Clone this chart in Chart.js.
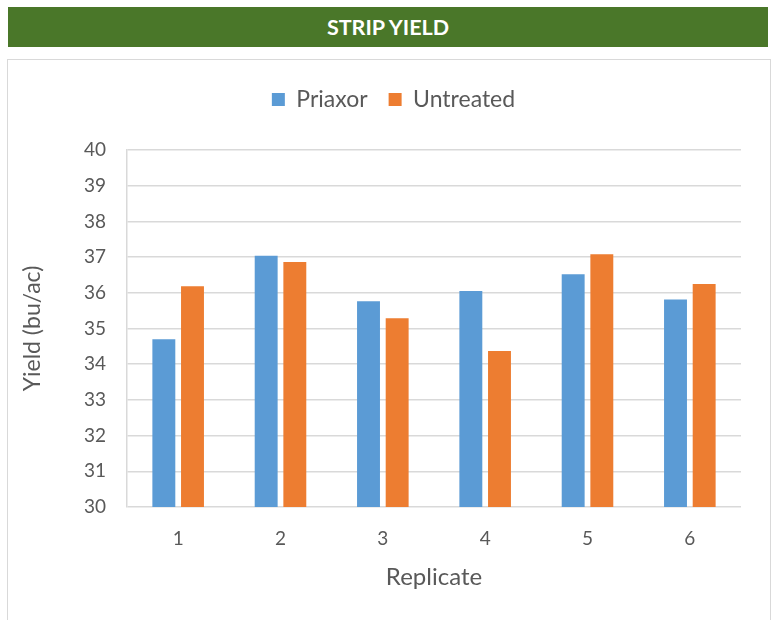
<!DOCTYPE html>
<html>
<head>
<meta charset="utf-8">
<script src="https://cdn.jsdelivr.net/npm/chart.js@4.4.1/dist/chart.umd.min.js"></script>
<style>
  body { margin: 0; background: #fff; font-family: Lato, "Open Sans", sans-serif; }
  #header {
    position: absolute; left: 8px; top: 7px; width: 760px; height: 40px;
    background: #4a7729; color: #fff; font-weight: bold; font-size: 21.5px;
    line-height: 40px; text-align: center;
  }
  #box {
    position: absolute; left: 7px; top: 59px; width: 762px; height: 561px;
    border: 1px solid #d9d9d9; border-bottom: none;
  }
</style>
</head>
<body>
<div id="header">STRIP YIELD</div>
<div id="box"><canvas id="yieldChart"></canvas></div>
<script>
const replicates = ["1", "2", "3", "4", "5", "6"];
const priaxor = [34.70, 37.04, 35.76, 36.05, 36.52, 35.81];
const untreated = [36.18, 36.86, 35.29, 34.37, 37.08, 36.25];
const yTicks = [30, 31, 32, 33, 34, 35, 36, 37, 38, 39, 40];

const textColor = "#595959";
const gridColor = "#d9d9d9";

// fixed legend height so the plot area lands where it does in the reference,
// and nudge it right so it is centred on the whole box rather than the padded area
const legendPlacement = {
  id: "legendPlacement",
  beforeInit(chart) {
    const fit = chart.legend.fit;
    chart.legend.fit = function () {
      fit.bind(chart.legend)();
      this.height = 83;
    };
  },
  afterLayout(chart) {
    chart.legend.left += 19;
    chart.legend.right += 19;
  }
};

new Chart(document.getElementById("yieldChart").getContext("2d"), {
  type: "bar",
  data: {
    labels: replicates,
    datasets: [
      { label: "Priaxor", data: priaxor, backgroundColor: "#5b9bd5" },
      { label: "Untreated", data: untreated, backgroundColor: "#ed7d31" }
    ]
  },
  options: {
    responsive: true,
    maintainAspectRatio: false,
    animation: false,
    layout: { padding: { top: 7, right: 29, left: 0, bottom: 0 } },
    datasets: { bar: { categoryPercentage: 0.56, barPercentage: 0.8 } },
    plugins: {
      legend: {
        position: "top",
        labels: {
          color: textColor,
          font: { family: "Lato", size: 23 },
          boxWidth: 13, boxHeight: 13, padding: 21
        }
      },
      tooltip: { enabled: false }
    },
    scales: {
      x: {
        grid: { display: false },
        border: { display: false },
        ticks: { color: textColor, font: { family: "Lato", size: 19 }, padding: 12 },
        title: {
          display: true, text: "Replicate", color: textColor,
          font: { family: "Lato", size: 24 }, padding: { top: 0, bottom: 29 }
        },
        afterFit(scale) { scale.height = 114; }
      },
      y: {
        min: 30, max: 40,
        afterBuildTicks(scale) { scale.ticks = yTicks.map(v => ({ value: v })); },
        grid: { color: gridColor, lineWidth: 1.5, drawTicks: false },
        border: { display: true, color: gridColor, width: 1.5 },
        ticks: { color: textColor, font: { family: "Lato", size: 19 }, padding: 21 },
        title: {
          display: true, text: "Yield (bu/ac)", color: textColor,
          font: { family: "Lato", size: 23 }, padding: { top: 11, bottom: 0 }
        },
        afterFit(scale) { scale.width = 119; }
      }
    }
  },
  plugins: [legendPlacement]
});
</script>
</body>
</html>
